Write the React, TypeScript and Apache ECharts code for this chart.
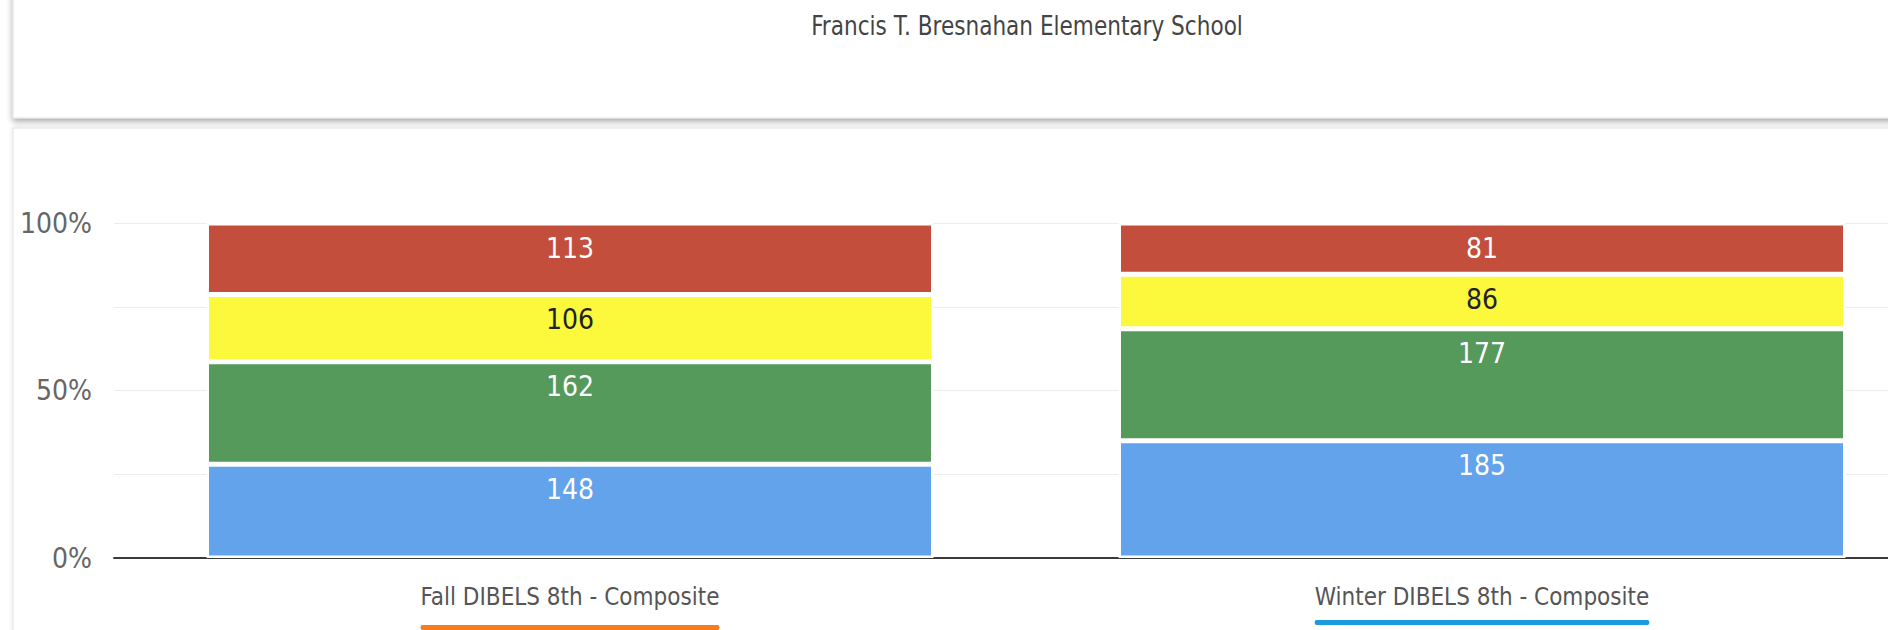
import React, { useEffect, useRef } from "react";
import * as echarts from "echarts";

const titleText = "Francis T. Bresnahan Elementary School";
const categories = ["Fall DIBELS 8th - Composite", "Winter DIBELS 8th - Composite"];
const seriesNames = ["Above Benchmark", "At Benchmark", "Below Benchmark", "Well Below Benchmark"];
const blueCounts = [148, 185];
const greenCounts = [162, 177];
const yellowCounts = [106, 86];
const redCounts = [113, 81];
const yTicks = [0, 50, 100];
const underlineColors = ["#f57c20", "#1a9be0"];

const FONT = "'Liberation Sans Narrow', 'DejaVu Sans Condensed', Roboto, sans-serif";

export default function App() {
  const ref = useRef<HTMLDivElement>(null);
  useEffect(() => {
    if (!ref.current) return;
    const chart = echarts.init(ref.current, null, { renderer: "svg" });
    const counts = [blueCounts, greenCounts, yellowCounts, redCounts];
    const colors = ["#62a3ec", "#55995b", "#fcf93c", "#c24e3b"];
    const labelColors = ["#ffffff", "#ffffff", "#222222", "#ffffff"];
    const totals = categories.map((_, i) => counts.reduce((s, arr) => s + arr[i], 0));
    const series = counts.map((arr, si) => ({
      name: seriesNames[si],
      type: "bar",
      stack: "total",
      barWidth: 727,
      data: arr.map((c, i) => (c / totals[i]) * 100),
      itemStyle: { color: colors[si], borderColor: "#ffffff", borderWidth: 2.5 },
      label: {
        show: true,
        position: "insideTop",
        distance: 11,
        fontFamily: FONT,
        fontSize: 28,
        color: labelColors[si],
        formatter: (p: any) => String(arr[p.dataIndex]),
      },
    }));
    chart.setOption({
      animation: false,
      backgroundColor: "#ffffff",
      grid: { left: 114, width: 1824, top: 223, height: 335 },
      xAxis: {
        type: "category",
        data: categories,
        axisLine: { lineStyle: { color: "#3a3a3a", width: 2 } },
        axisTick: { show: false },
        axisLabel: { color: "#555555", fontFamily: FONT, fontSize: 24, margin: 27 },
      },
      yAxis: {
        type: "value",
        min: 0,
        max: 100,
        interval: 25,
        axisLine: { show: false },
        axisTick: { show: false },
        splitLine: { lineStyle: { color: "#ececec", width: 1 } },
        axisLabel: {
          color: "#666666",
          fontFamily: FONT,
          fontSize: 28,
          margin: 22,
          formatter: (v: number) => (yTicks.includes(v) ? v + "%" : ""),
        },
      },
      series,
    });
    const canvas = document.createElement("canvas");
    const ctx = canvas.getContext("2d")!;
    ctx.font = "24px " + FONT;
    const underlines = categories.map((cat, i) => {
      const cx = chart.convertToPixel({ xAxisIndex: 0 }, cat) as number;
      const w = ctx.measureText(cat).width;
      return {
        type: "rect",
        z: 10,
        shape: { x: cx - w / 2, y: i === 0 ? 625 : 620, width: w, height: 5, r: 2 },
        style: { fill: underlineColors[i] },
      };
    });
    chart.setOption({
      graphic: [
        {
          type: "rect",
          z: -10,
          shape: { x: 13, y: 128, width: 1990, height: 540 },
          style: { fill: "#ffffff", stroke: "#e4e4e4", lineWidth: 1, shadowBlur: 4, shadowColor: "rgba(0,0,0,0.12)" },
        },
        {
          type: "rect",
          z: -9,
          shape: { x: 13, y: -20, width: 1990, height: 138 },
          style: { fill: "#ffffff", stroke: "#e0e0e0", lineWidth: 1, shadowBlur: 6, shadowOffsetY: 3, shadowColor: "rgba(0,0,0,0.35)" },
        },
        {
          type: "text",
          z: 10,
          x: 1027,
          y: 25,
          scaleX: 0.89,
          style: {
            text: titleText,
            fontFamily: FONT,
            fontSize: 27,
            fill: "#444444",
            textAlign: "center",
            textVerticalAlign: "middle",
          },
        },
        ...underlines,
      ],
    });
    return () => chart.dispose();
  }, []);
  return (
    <div style={{ position: "fixed", left: 0, top: 0, width: 1888, height: 630, overflow: "hidden", background: "#fff" }}>
      <div ref={ref} style={{ width: 2000, height: 630 }} />
    </div>
  );
}
